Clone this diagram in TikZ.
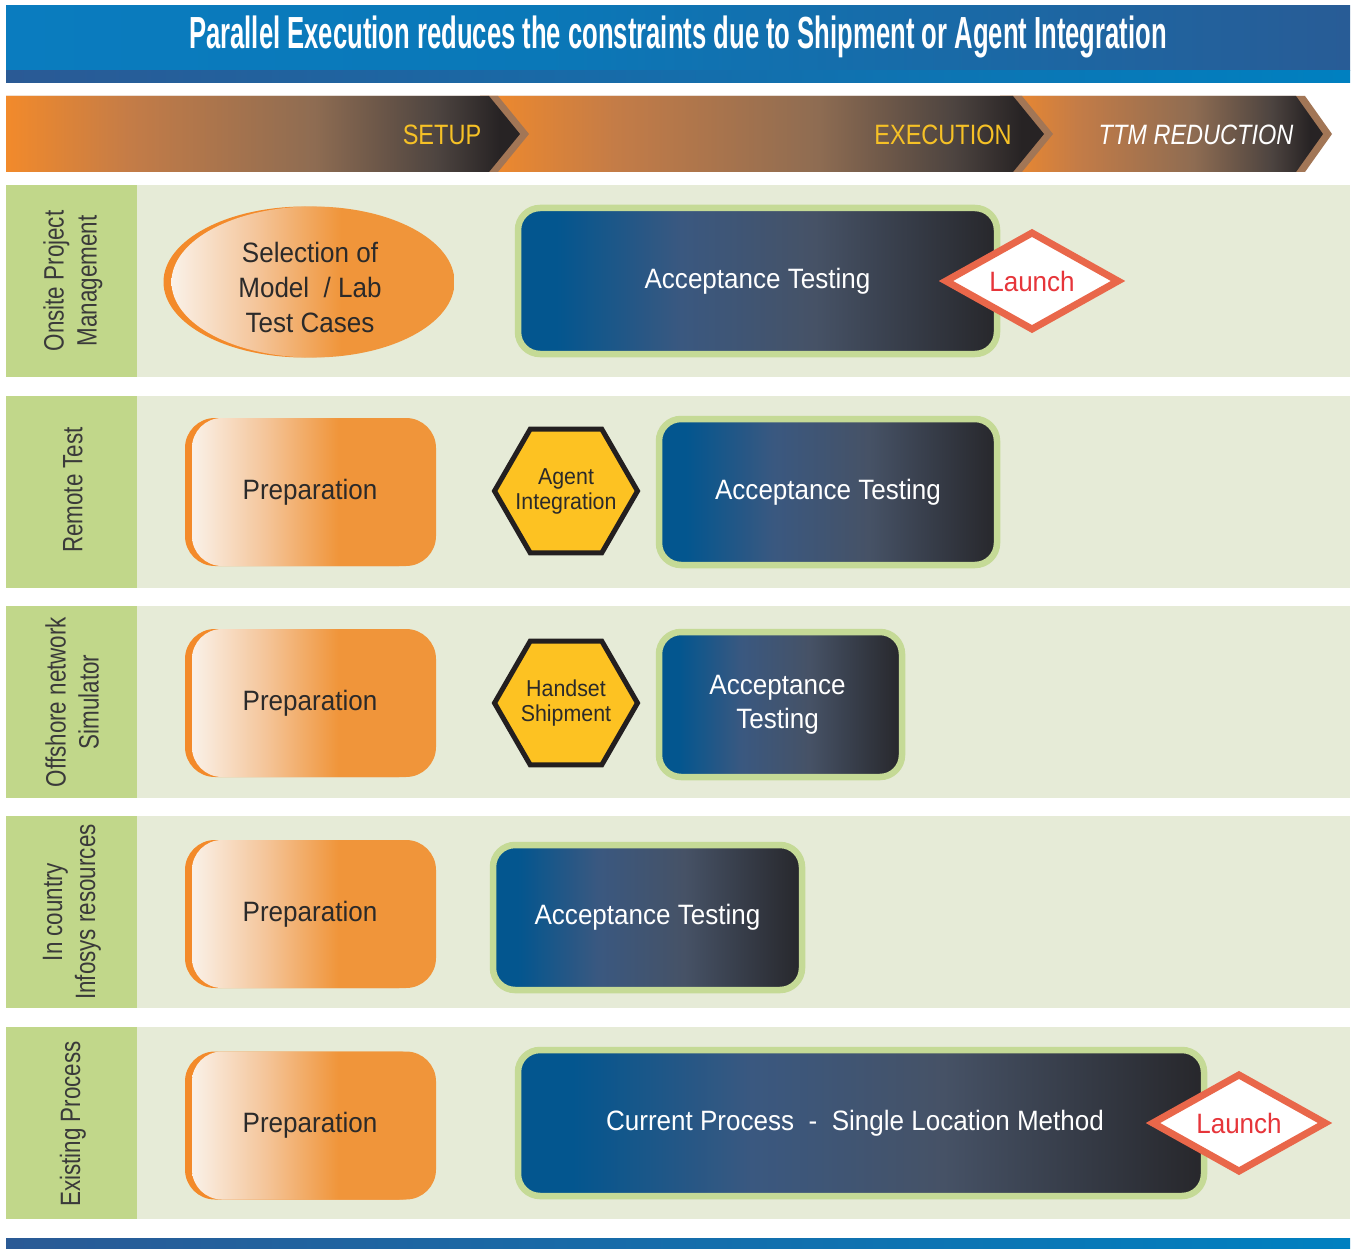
\documentclass[tikz,border=0pt]{standalone}
\usepackage{fontspec}
\setmainfont{Liberation Sans}
\newfontfamily\boxf{Liberation Sans}[FakeStretch=0.93]
\newfontfamily\labf{Liberation Sans}[FakeStretch=0.8]
\newfontfamily\bandf{Liberation Sans}[FakeStretch=0.84]
\newfontfamily\titf{Liberation Sans}[FakeStretch=0.57]
\usetikzlibrary{shapes.geometric}
\definecolor{tb1}{HTML}{0A7CBF}
\definecolor{tb2}{HTML}{0A78B8}
\definecolor{tb3}{HTML}{285C96}
\definecolor{st1}{HTML}{2A5A95}
\definecolor{st2}{HTML}{0080C0}
\definecolor{bo1}{HTML}{F28A2B}
\definecolor{bo2}{HTML}{C47C47}
\definecolor{bo3}{HTML}{8E6C52}
\definecolor{bo4}{HTML}{4D4440}
\definecolor{bo5}{HTML}{272324}
\definecolor{edgec}{HTML}{A27656}
\definecolor{setupc}{HTML}{F6C126}
\definecolor{labg}{HTML}{C1D78A}
\definecolor{rowbg}{HTML}{E6EBD7}
\definecolor{accg}{HTML}{C5DA96}
\definecolor{ab1}{HTML}{03568F}
\definecolor{ab2}{HTML}{3A5880}
\definecolor{ab3}{HTML}{465266}
\definecolor{ab4}{HTML}{27272B}
\definecolor{pl}{HTML}{FAF1E8}
\definecolor{pm}{HTML}{F4C59A}
\definecolor{po}{HTML}{F0953A}
\definecolor{psh}{HTML}{F38A2A}
\definecolor{hexy}{HTML}{FDC222}
\definecolor{hexk}{HTML}{231F20}
\definecolor{lnb}{HTML}{E9674A}
\definecolor{lnt}{HTML}{E6353A}
\definecolor{txt}{HTML}{2B2A2A}
\definecolor{labt}{HTML}{3A3A3A}
\pgfdeclarehorizontalshading{titshade}{100bp}{color(0bp)=(tb1); color(25bp)=(tb1); color(45bp)=(tb2); color(75bp)=(tb3); color(100bp)=(tb3)}
\pgfdeclarehorizontalshading{strshade}{100bp}{color(0bp)=(st1); color(25bp)=(st1); color(75bp)=(st2); color(100bp)=(st2)}
\pgfdeclarehorizontalshading{bandshade}{100bp}{color(0bp)=(bo1); color(25bp)=(bo1); color(37bp)=(bo2); color(55bp)=(bo3); color(67bp)=(bo4); color(73bp)=(bo5); color(100bp)=(bo5)}
\pgfdeclarehorizontalshading{accshade}{100bp}{color(0bp)=(ab1); color(25bp)=(ab1); color(29bp)=(ab1); color(42bp)=(ab2); color(56bp)=(ab3); color(75bp)=(ab4); color(100bp)=(ab4)}
\pgfdeclarehorizontalshading{prepshade}{100bp}{color(0bp)=(pl); color(25bp)=(pl); color(40bp)=(pm); color(55bp)=(po); color(100bp)=(po)}
\tikzset{
 accbox/.style={draw=accg, line width=6.5pt, rounded corners=22pt, shade, shading=accshade, text=white, font=\boxf\fontsize{28}{34}\selectfont, align=center, inner sep=0pt},
 prepbox/.style={rounded corners=30pt, shade, shading=prepshade, text=txt, font=\boxf\fontsize{28}{35}\selectfont, align=center, inner sep=0pt, minimum width=244pt, minimum height=148pt},
 prepshadow/.style={rounded corners=30pt, fill=psh, inner sep=0pt, minimum width=244pt, minimum height=148pt},
 hexnode/.style={regular polygon, regular polygon sides=6, minimum size=143pt, inner sep=0pt, fill=hexy, draw=hexk, line width=5pt},
 hextext/.style={inner sep=0pt, text=txt, font=\boxf\fontsize{23}{25}\selectfont, align=center},
 launchnode/.style={diamond, aspect=1.8, minimum width=175pt, minimum height=99pt, inner sep=0pt, fill=white, draw=lnb, line width=7pt, text=lnt, font=\boxf\fontsize{28}{34}\selectfont},
 rowlab/.style={rotate=90, align=center, text=labt, font=\labf\fontsize{28}{33}\selectfont, inner sep=0pt},
 bandlab/.style={font=\bandf\fontsize{28}{34}\selectfont, inner sep=0pt, anchor=base},
}
\begin{document}
\begin{tikzpicture}[x=1pt,y=-1pt]
\useasboundingbox (0,0) rectangle (1351,1249);
\fill[white] (0,0) rectangle (1351,1249);
% title band
\shade[shading=titshade] (6,6) rectangle (1350,71);
\shade[shading=strshade] (6,71) rectangle (1350,83);
\node[anchor=base, inner sep=0pt, text=white, font=\titf\bfseries\fontsize{45}{50}\selectfont] (title) at (678,49) {Parallel Execution reduces the constraints due to Shipment or Agent Integration};
% arrow band
\fill[edgec] (1000,96) -- (1305,96) -- (1332,134) -- (1305,172) -- (1000,172) -- cycle;
\shade[shading=bandshade] (1000,96) -- (1296,96) -- (1323,134) -- (1296,172) -- (1000,172) -- cycle;
\fill[edgec] (480,96) -- (1022,96) -- (1053,134) -- (1022,172) -- (480,172) -- cycle;
\shade[shading=bandshade] (480,96) -- (1013,96) -- (1044,134) -- (1013,172) -- (480,172) -- cycle;
\fill[edgec] (6,96) -- (498,96) -- (529,134) -- (498,172) -- (6,172) -- cycle;
\shade[shading=bandshade] (6,96) -- (489,96) -- (520,134) -- (489,172) -- (6,172) -- cycle;
\node[bandlab, text=setupc] (setup) at (442,145) {SETUP};
\node[bandlab, text=setupc] (exec) at (943,145) {EXECUTION};
\node[bandlab, text=white, font=\bandf\itshape\fontsize{28}{34}\selectfont] (ttm) at (1196,145) {TTM REDUCTION};
% rows
\foreach \y in {185,396,606,816,1027}{
  \fill[labg] (6,\y) rectangle (137,\y+192);
  \fill[rowbg] (137,\y) rectangle (1350,\y+192);
}
\shade[shading=strshade] (6,1238) rectangle (1350,1249);
% row labels
\node[rowlab] (l1) at (73,281) {Onsite Project\\Management};
\node[rowlab] (l2) at (73,490) {Remote Test};
\node[rowlab] (l3) at (72,702) {Offshore network\\Simulator};
\node[rowlab] (l4) at (72,912) {In country\\Infosys resources};
\node[rowlab] (l5) at (73,1124) {Existing Process};
% row 1
\node[ellipse, fill=psh, minimum width=283pt, minimum height=151pt, inner sep=0pt] (sels) at (305,282) {};
\node[ellipse, shade, shading=prepshade, minimum width=283pt, minimum height=151pt, inner sep=0pt] (sel) at (313,282) {};
\node[inner sep=0pt, align=center, text=txt, font=\boxf\fontsize{28}{35}\selectfont] (selt) at (310,287) {Selection of\\Model~ / Lab\\Test Cases};
\node[accbox, minimum width=479pt, minimum height=146pt] (acc1) at (757.5,281) {Acceptance Testing};
\node[launchnode] (launch1) at (1032,281) {Launch};
% row 2
\node[prepshadow] (p2s) at (307,492) {};
\node[prepbox] (p2) at (314,492) {\hspace*{-8pt}Preparation};
\node[hexnode] (agent) at (566,491) {};
\node[hextext] (agentt) at (agent.center) {Agent\\Integration};
\node[accbox, minimum width=338pt, minimum height=146pt] (acc2) at (828,492) {Acceptance Testing};
% row 3
\node[prepshadow] (p3s) at (307,703) {};
\node[prepbox] (p3) at (314,703) {\hspace*{-8pt}Preparation};
\node[hexnode] (hand) at (566,703) {};
\node[hextext] (handt) at (hand.center) {Handset\\Shipment};
\node[accbox, minimum width=243pt, minimum height=145pt] (acc3) at (780.5,704.5) {\hspace*{-6pt}Acceptance\\\hspace*{-6pt}Testing};
% row 4
\node[prepshadow] (p4s) at (307,914) {};
\node[prepbox] (p4) at (314,914) {\hspace*{-8pt}Preparation};
\node[accbox, minimum width=309pt, minimum height=145pt] (acc4) at (647.5,917.5) {Acceptance Testing};
% row 5
\node[prepshadow] (p5s) at (307,1125.5) {};
\node[prepbox] (p5) at (314,1125.5) {\hspace*{-8pt}Preparation};
\node[accbox, minimum width=686pt, minimum height=146pt] (cur) at (861,1123) {\hspace*{-12pt}Current Process~ -~ Single Location Method};
\node[launchnode] (launch2) at (1239,1123) {Launch};
\end{tikzpicture}
\end{document}
